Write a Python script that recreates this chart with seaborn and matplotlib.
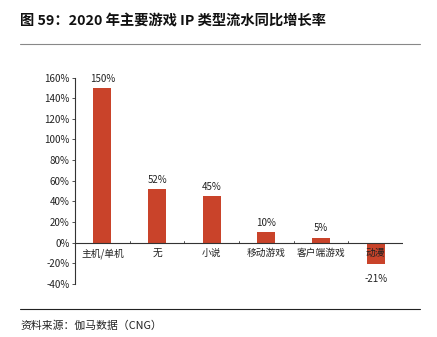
import matplotlib
matplotlib.use("Agg")
import matplotlib.pyplot as plt
import seaborn as sns
import pandas as pd

categories = ["主机/单机", "无", "小说", "移动游戏", "客户端游戏", "动漫"]
values = [150, 52, 45, 10, 5, -21]
value_labels = ["150%", "52%", "45%", "10%", "5%", "-21%"]
yticks = [-40, -20, 0, 20, 40, 60, 80, 100, 120, 140, 160]

sns.set_theme(style="white")
plt.rcParams['font.family'] = ['Noto Sans CJK SC', 'DejaVu Sans']

df = pd.DataFrame({"cat": categories, "val": values})

fig = plt.figure(figsize=(4.37, 3.37), dpi=100)
ax = fig.add_axes([75/437, 1-284/337, (403-75)/437, (284-77.5)/337])
sns.barplot(data=df, x="cat", y="val", color="#C9432A", width=0.33, ax=ax,
            saturation=1, edgecolor="none")

ax.set_ylim(-40, 160)
ax.set_xlim(-0.5, len(categories)-0.5)
ax.set_yticks(yticks)
ax.set_yticklabels([f"{t}%" for t in yticks], fontsize=7, color="#222222")
ax.set_xlabel("")
ax.set_ylabel("")
ax.set_xticks([])
for s in ["top", "right", "bottom"]:
    ax.spines[s].set_visible(False)
ax.spines["left"].set_color("#333333")
ax.spines["left"].set_linewidth(0.8)
ax.tick_params(axis="y", length=2, width=0.6, color="#333333", pad=2, left=True)
ax.axhline(0, color="#333333", lw=0.8)
for b in range(1, len(categories)+1):
    ax.plot([b-0.5, b-0.5], [0, 2], color="#333333", lw=0.6)

for i, (v, lab) in enumerate(zip(values, value_labels)):
    if v >= 0:
        ax.text(i, v + 4, lab, ha="center", va="bottom", fontsize=7, color="#222222")
    else:
        ax.text(i, v - 9, lab, ha="center", va="top", fontsize=7, color="#222222")
    ax.text(i, -5, categories[i], ha="center", va="top", fontsize=7, color="#222222")

fig.text(20/437, 1-22/337, "图 59：2020 年主要游戏 IP 类型流水同比增长率", fontsize=10.3,
         fontweight="bold", va="center", ha="left", color="#111111")
fig.add_artist(plt.Line2D([20/437, 420/437], [1-44/337, 1-44/337], color="#888888", lw=0.8))
fig.add_artist(plt.Line2D([20/437, 420/437], [1-309/337, 1-309/337], color="#222222", lw=0.8))
fig.text(20/437, 1-326/337, "资料来源：伽马数据（CNG）", fontsize=7.8, va="center", ha="left",
         color="#222222")

fig.savefig("out.png", dpi=100)
